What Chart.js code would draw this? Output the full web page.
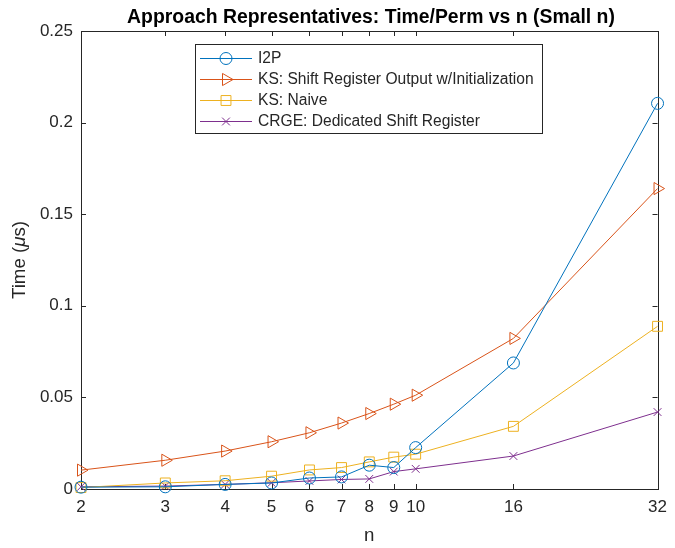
<!DOCTYPE html>
<html>
<head>
<meta charset="utf-8">
<script src="https://cdn.jsdelivr.net/npm/chart.js@4/dist/chart.umd.min.js"></script>
<style>
  html, body { margin: 0; padding: 0; background: #fff; }
  #wrap { width: 675px; height: 548px; }
</style>
</head>
<body>
<div id="wrap"><canvas id="c" width="675" height="548"></canvas></div>
<script>
// Problem sizes and per-permutation timings (microseconds)
const nValues = [2, 3, 4, 5, 6, 7, 8, 9, 10, 16, 32];
const xTickValues = [2, 3, 4, 5, 6, 7, 8, 9, 10, 16, 32];
const yTickValues = [0, 0.05, 0.1, 0.15, 0.2, 0.25];

const i2p      = [0.0010, 0.0012, 0.0025, 0.0033, 0.0060, 0.0066, 0.0130, 0.0117, 0.0226, 0.0688, 0.2105];
const ksShift  = [0.0103, 0.0157, 0.0207, 0.0258, 0.0307, 0.0360, 0.0412, 0.0463, 0.0512, 0.0822, 0.1640];
const ksNaive  = [0.0008, 0.0033, 0.0045, 0.0070, 0.0104, 0.0117, 0.0148, 0.0174, 0.0190, 0.0342, 0.0888];
const crge     = [0.0012, 0.0016, 0.0025, 0.0034, 0.0044, 0.0052, 0.0055, 0.0095, 0.0110, 0.0180, 0.0420];

const seriesNames = [
  'I2P',
  'KS: Shift Register Output w/Initialization',
  'KS: Naive',
  'CRGE: Dedicated Shift Register'
];

const FONT = '"Liberation Sans", Arial, Helvetica, sans-serif';
const AXIS_COLOR = '#262626';

function pts(arr) { return nValues.map((n, i) => ({ x: n, y: arr[i] })); }

const styles = [
  { color: '#0072BD', pointStyle: 'circle',   radius: 6, rotation: 0 },
  { color: '#D95319', pointStyle: 'triangle', radius: 7, rotation: 90 },
  { color: '#EDB120', pointStyle: 'rect',     radius: 7, rotation: 0 },
  { color: '#7E2F8E', pointStyle: 'crossRot', radius: 5.5, rotation: 0 }
];
const seriesData = [i2p, ksShift, ksNaive, crge];

const datasets = seriesData.map((arr, i) => ({
  label: seriesNames[i],
  data: pts(arr),
  borderColor: styles[i].color,
  backgroundColor: 'rgba(0,0,0,0)',
  borderWidth: 1,
  pointStyle: styles[i].pointStyle,
  pointRadius: styles[i].radius,
  pointRotation: styles[i].rotation,
  pointBorderColor: styles[i].color,
  pointBackgroundColor: 'rgba(0,0,0,0)',
  pointBorderWidth: 1,
  tension: 0,
  clip: false
}));

// Draws the boxed axes with inward tick marks on all four sides, the title,
// the y-axis label (with an italic mu) and the legend
const matlabAxes = {
  id: 'matlabAxes',
  beforeDatasetsDraw(chart) {
    const { ctx, chartArea: a, scales } = chart;
    ctx.save();
    ctx.strokeStyle = AXIS_COLOR;
    ctx.lineWidth = 1;
    ctx.strokeRect(Math.round(a.left) + 0.5, Math.round(a.top) + 0.5,
                   Math.round(a.right - a.left), Math.round(a.bottom - a.top));
    const tl = 5;
    ctx.beginPath();
    xTickValues.forEach(v => {
      const x = Math.round(scales.x.getPixelForValue(v)) + 0.5;
      ctx.moveTo(x, a.bottom); ctx.lineTo(x, a.bottom - tl);
      ctx.moveTo(x, a.top); ctx.lineTo(x, a.top + tl);
    });
    yTickValues.forEach(v => {
      const y = Math.round(scales.y.getPixelForValue(v)) + 0.5;
      ctx.moveTo(a.left, y); ctx.lineTo(a.left + tl, y);
      ctx.moveTo(a.right, y); ctx.lineTo(a.right - tl, y);
    });
    ctx.stroke();

    // y-axis label: "Time (" + italic mu + "s)"
    const parts = [
      { t: 'Time (', f: '18.7px ' + FONT },
      { t: '\u03bc', f: 'italic 18.7px ' + FONT },
      { t: 's)', f: '18.7px ' + FONT }
    ];
    let total = 0;
    parts.forEach(p => { ctx.font = p.f; p.w = ctx.measureText(p.t).width; total += p.w; });
    ctx.translate(20, (a.top + a.bottom) / 2);
    ctx.rotate(-Math.PI / 2);
    ctx.fillStyle = AXIS_COLOR;
    ctx.textBaseline = 'middle';
    ctx.textAlign = 'left';
    let px = -total / 2;
    parts.forEach(p => { ctx.font = p.f; ctx.fillText(p.t, px, 0); px += p.w; });
    ctx.restore();
  },
  afterDraw(chart) {
    const { ctx } = chart;
    ctx.save();
    // title
    ctx.fillStyle = '#000';
    ctx.font = 'bold 19.4px ' + FONT;
    ctx.textAlign = 'center';
    ctx.textBaseline = 'middle';
    ctx.fillText('Approach Representatives: Time/Perm vs n (Small n)', 371, 18);

    // legend box
    const bx = 195.5, by = 44.5, bw = 347, bh = 89;
    ctx.fillStyle = '#fff';
    ctx.fillRect(bx, by, bw, bh);
    ctx.strokeStyle = AXIS_COLOR;
    ctx.lineWidth = 1;
    ctx.strokeRect(bx, by, bw, bh);
    ctx.font = '15.6px ' + FONT;
    ctx.textAlign = 'left';
    const rows = [58, 79, 100, 121];
    chart.data.datasets.forEach((ds, i) => {
      const y = rows[i];
      ctx.strokeStyle = ds.borderColor;
      ctx.lineWidth = 1;
      ctx.beginPath();
      ctx.moveTo(200, y + 0.5); ctx.lineTo(252, y + 0.5);
      ctx.stroke();
      ctx.fillStyle = 'rgba(0,0,0,0)';
      Chart.helpers.drawPoint(ctx, {
        pointStyle: ds.pointStyle,
        rotation: ds.pointRotation,
        radius: ds.pointRadius,
        borderWidth: 1
      }, 226, y + 0.5);
      ctx.fillStyle = AXIS_COLOR;
      ctx.fillText(ds.label, 258, y + 1);
    });
    ctx.restore();
  }
};

new Chart(document.getElementById('c'), {
  type: 'line',
  data: { datasets },
  plugins: [matlabAxes],
  options: {
    responsive: false,
    animation: false,
    devicePixelRatio: 1,
    layout: { padding: { left: 0, right: 14, top: 31, bottom: 0 } },
    plugins: {
      legend: { display: false },
      title: { display: false },
      tooltip: { enabled: false }
    },
    scales: {
      x: {
        type: 'logarithmic',
        min: 2,
        max: 32,
        border: { display: false },
        grid: { display: false, drawTicks: false },
        afterBuildTicks(scale) { scale.ticks = xTickValues.map(v => ({ value: v, major: false })); },
        afterFit(scale) { scale.height = 59; },
        ticks: {
          padding: 8,
          color: AXIS_COLOR,
          font: { family: FONT, size: 17 },
          autoSkip: false,
          maxRotation: 0,
          callback: (v) => String(v)
        },
        title: {
          display: true,
          text: 'n',
          color: AXIS_COLOR,
          font: { family: FONT, size: 18.7 },
          padding: { top: 0, bottom: 1 }
        }
      },
      y: {
        type: 'linear',
        min: 0,
        max: 0.25,
        border: { display: false },
        grid: { display: false, drawTicks: false },
        afterBuildTicks(scale) { scale.ticks = yTickValues.map(v => ({ value: v })); },
        afterFit(scale) { scale.width = 81; },
        ticks: {
          padding: 8,
          color: AXIS_COLOR,
          font: { family: FONT, size: 17 },
          callback: (v) => String(Math.round(v * 100) / 100)
        },
        title: { display: false }
      }
    }
  }
});
</script>
</body>
</html>
